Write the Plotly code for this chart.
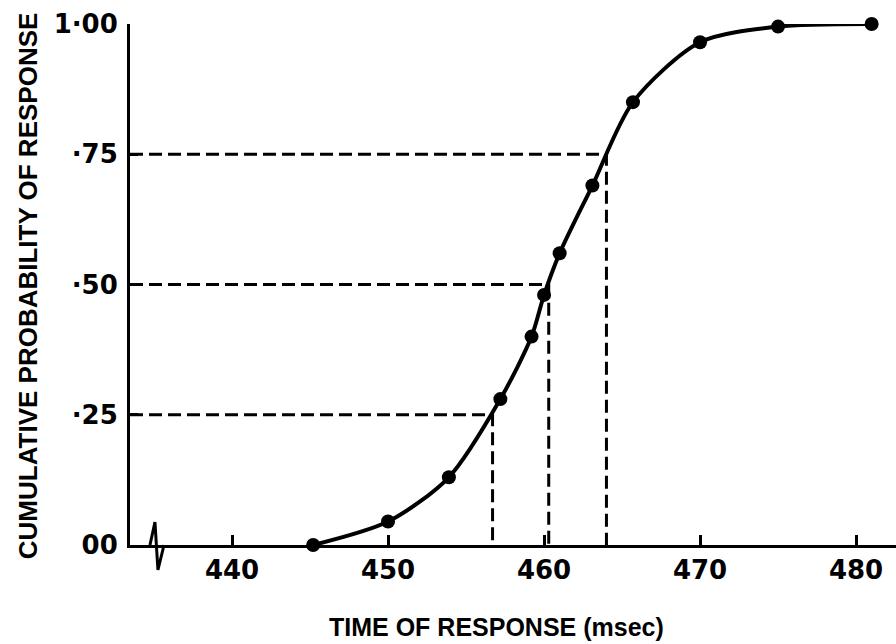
import plotly.graph_objects as go

# Data
times = [445.2, 450.0, 453.9, 457.2, 459.2, 460.0, 461.0, 463.1, 465.7, 470.0, 475.0, 481.0]
cum_prob = [0.00, 0.045, 0.13, 0.28, 0.40, 0.48, 0.56, 0.69, 0.85, 0.965, 0.995, 1.00]

quartile_levels = [0.25, 0.50, 0.75]
quartile_times = [456.7, 460.3, 464.0]

x_tickvals = [440, 450, 460, 470, 480]
x_ticktext = ["440", "450", "460", "470", "480"]
y_tickvals = [0, 0.25, 0.5, 0.75, 1.0]
y_ticktext = ["00", "·25", "·50", "·75", "1·00"]

x_range = [433.46, 482.56]
y_range = [0, 1.0]

TICKFONT = "DejaVu Sans"
FONT = "Liberation Sans"

fig = go.Figure()

# dashed quartile guides
for q, t in zip(quartile_levels, quartile_times):
    fig.add_trace(go.Scatter(
        x=[x_range[0], t, t], y=[q, q, 0],
        mode="lines", line=dict(color="black", width=3, dash="13px,6px"),
        hoverinfo="skip", showlegend=False))

# smooth cumulative curve with points
fig.add_trace(go.Scatter(
    x=times, y=cum_prob, mode="lines+markers",
    line=dict(color="black", width=4, shape="spline", smoothing=0.8),
    marker=dict(color="black", size=14),
    cliponaxis=False, showlegend=False))

# axis-break squiggle (x in data units, y in paper units)
brk_x = [434.74, 435.06, 435.25, 435.64]
brk_y = [0.0, 0.044, -0.048, 0.0]
path = "M {} {} L {} {} L {} {} L {} {}".format(
    brk_x[0], brk_y[0], brk_x[1], brk_y[1], brk_x[2], brk_y[2], brk_x[3], brk_y[3])
fig.add_shape(type="path", path=path, xref="x", yref="paper",
              line=dict(color="black", width=3))

fig.update_xaxes(
    range=x_range, tickvals=x_tickvals, ticktext=x_ticktext,
    ticks="inside", ticklen=10, tickwidth=3, tickcolor="black",
    showline=True, linecolor="black", linewidth=3,
    showgrid=False, zeroline=False, ticklabelstandoff=0,
    tickfont=dict(family=TICKFONT, size=26, color="black", weight="bold"))
fig.update_yaxes(
    range=y_range, tickvals=y_tickvals, ticktext=y_ticktext,
    ticks="inside", ticklen=8, tickwidth=3, tickcolor="black",
    showline=True, linecolor="black", linewidth=3,
    showgrid=False, zeroline=False, ticklabelstandoff=4,
    tickfont=dict(family=TICKFONT, size=26, color="black", weight="bold"))

fig.add_annotation(text="TIME OF RESPONSE (msec)", xref="paper", yref="paper",
                   x=0.479, y=-0.157, showarrow=False, xanchor="center", yanchor="middle",
                   font=dict(family=FONT, size=25, color="black", weight="bold"))
fig.add_annotation(text="CUMULATIVE PROBABILITY OF RESPONSE", xref="paper", yref="paper",
                   x=-0.133, y=0.497, textangle=-90, showarrow=False,
                   xanchor="center", yanchor="middle",
                   font=dict(family=FONT, size=26, color="black", weight="bold"))

fig.update_layout(
    width=896, height=644,
    margin=dict(l=130, r=0, t=24, b=99),
    paper_bgcolor="white", plot_bgcolor="white",
    showlegend=False)

fig.write_html("out.html")
